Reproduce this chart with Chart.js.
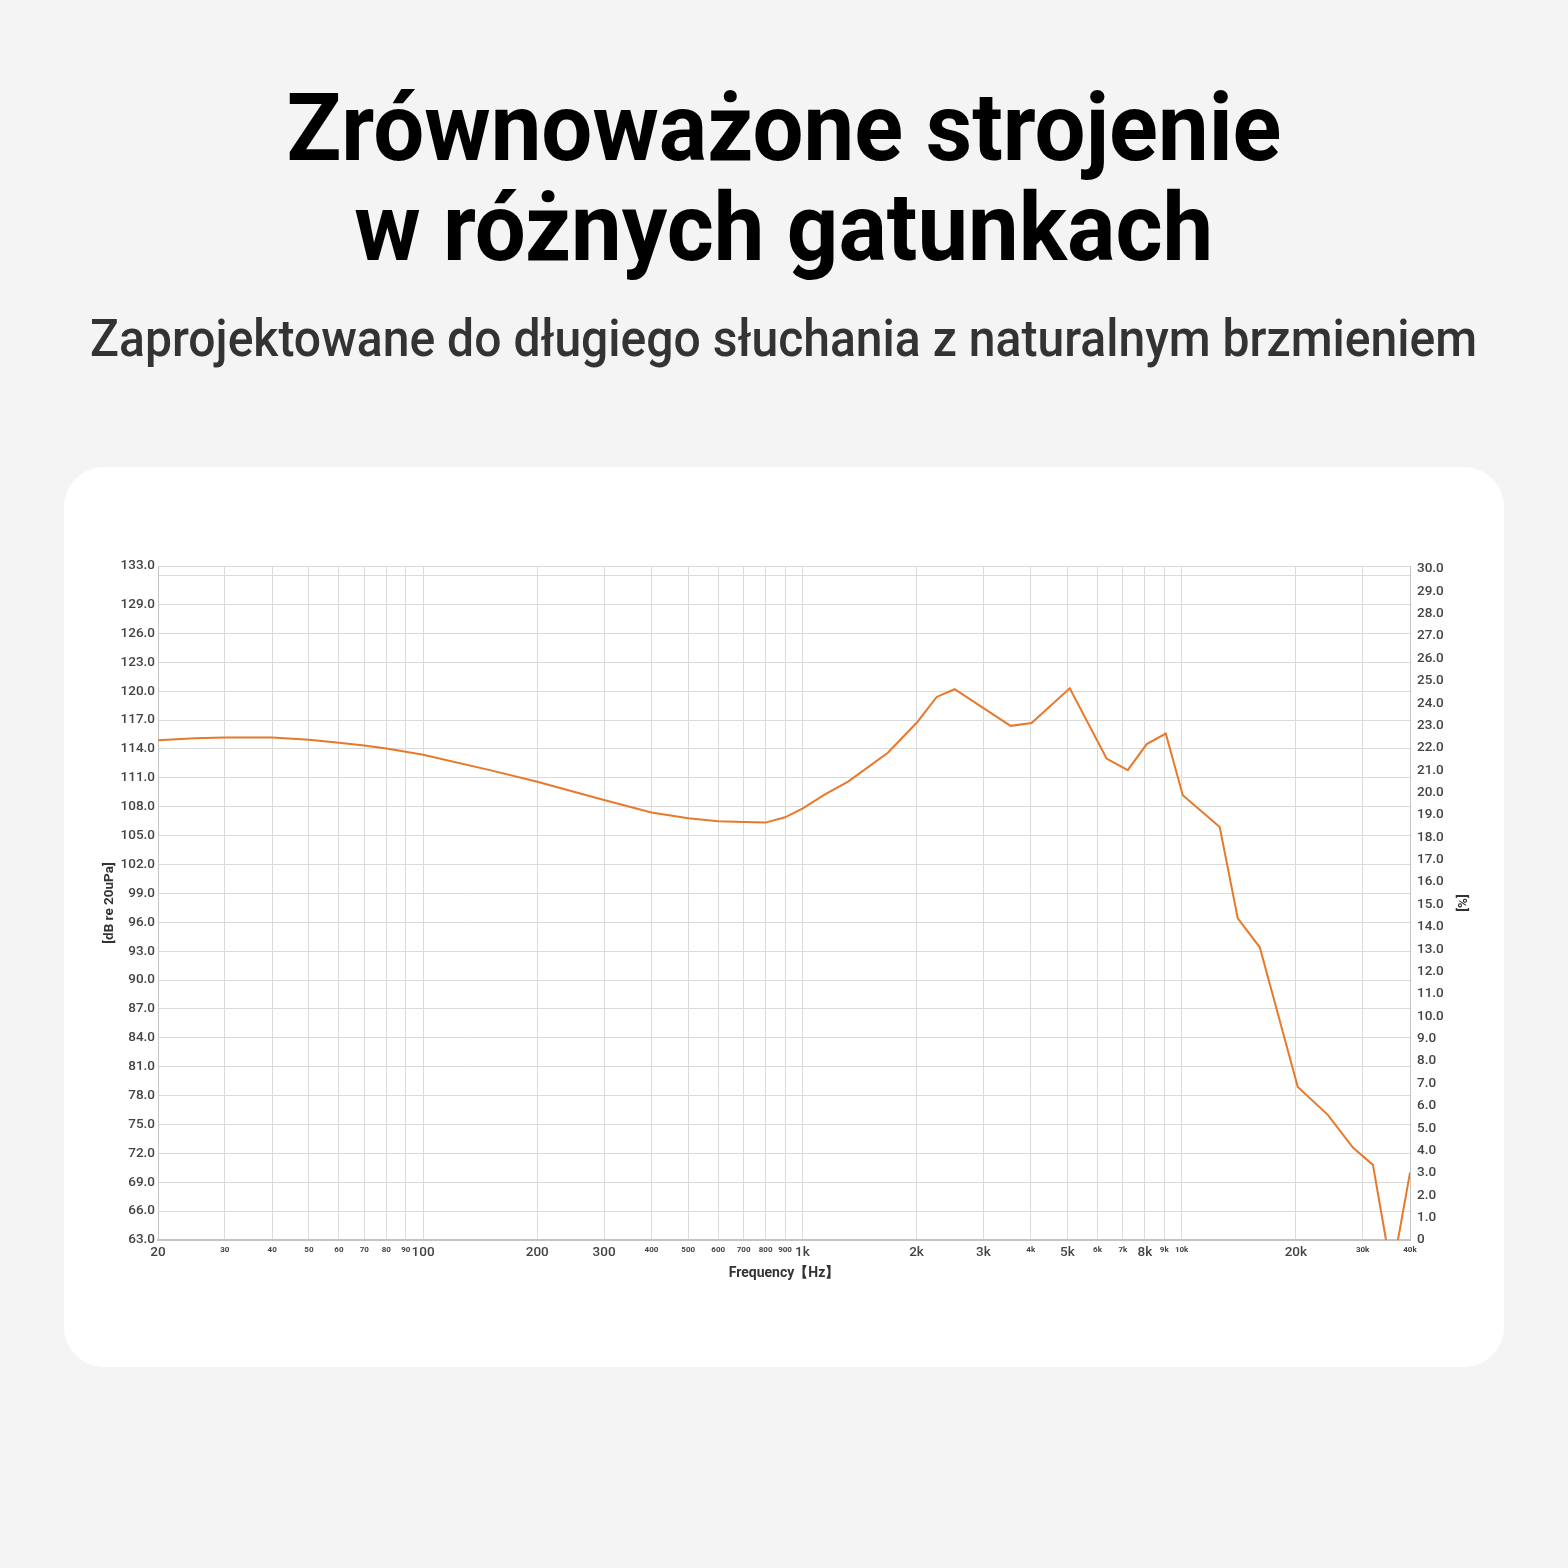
<!DOCTYPE html>
<html>
<head>
<meta charset="utf-8">
<script src="https://cdn.jsdelivr.net/npm/chart.js@4.4.0/dist/chart.umd.min.js"></script>
<style>
    html, body { margin: 0; padding: 0; }
    body {
        width: 1568px;
        height: 1568px;
        background: #f4f4f4;
        position: relative;
        overflow: hidden;
        font-family: Roboto, "Noto Sans", sans-serif;
    }
    .title {
        position: absolute;
        left: 0;
        top: 78px;
        width: 1568px;
        text-align: center;
        font-size: 94px;
        line-height: 100px;
        font-weight: 700;
        color: #000;
    }
    .subtitle {
        position: absolute;
        left: 0;
        top: 309px;
        width: 1568px;
        text-align: center;
        font-size: 52px;
        line-height: 60px;
        font-weight: 500;
        color: #333;
    }
    .fit {
        display: inline-block;
        white-space: nowrap;
        transform-origin: center center;
    }
    .card {
        position: absolute;
        left: 64px;
        top: 467px;
        width: 1440px;
        height: 900px;
        background: #fff;
        border-radius: 40px;
    }
    #fr {
        position: absolute;
        left: 64px;
        top: 467px;
        width: 1440px;
        height: 900px;
    }
</style>
</head>
<body>
<div class="title">
    <span class="fit" data-w="995">Zrównoważone strojenie</span><br>
    <span class="fit" data-w="859">w różnych gatunkach</span>
</div>
<div class="subtitle">
    <span class="fit" data-w="1387">Zaprojektowane do długiego słuchania z naturalnym brzmieniem</span>
</div>
<div class="card"></div>
<canvas id="fr" width="1440" height="900"></canvas>

<script>
const freqHz = [20, 25, 30, 40, 50, 60, 70, 80, 90, 100,
    150, 200, 300, 400, 500, 600, 700, 800, 900, 1000,
    1150, 1320, 1680, 2010, 2260, 2520, 3540, 4020, 5070, 6340,
    7210, 8090, 9080, 10070, 12600, 14060, 16070, 20240, 24290, 28280,
    31940, 35840, 40000];
const splDb = [114.9, 115.1, 115.2, 115.2, 114.95, 114.65, 114.35, 114.05, 113.7, 113.4,
    111.8, 110.6, 108.7, 107.4, 106.8, 106.5, 106.4, 106.35, 106.9, 107.8,
    109.3, 110.6, 113.6, 116.8, 119.4, 120.2, 116.4, 116.7, 120.3, 113.0,
    111.8, 114.5, 115.6, 109.2, 105.9, 96.4, 93.4, 78.9, 76.0, 72.6,
    70.8, 59.5, 70.0];

// axis ticks
const freqTicks = [20, 30, 40, 50, 60, 70, 80, 90,
    100, 200, 300, 400, 500, 600, 700, 800, 900,
    1000, 2000, 3000, 4000, 5000, 6000, 7000, 8000, 9000,
    10000, 20000, 30000, 40000];
const freqMajorTicks = [20, 100, 200, 300, 1000, 2000, 3000, 5000, 8000, 20000];
const dbTicks = [63, 66, 69, 72, 75, 78, 81, 84, 87, 90, 93, 96, 99, 102, 105,
    108, 111, 114, 117, 120, 123, 126, 129, 132, 133];
const dbUnlabelled = [132];
const pctTicks = [0, 1, 2, 3, 4, 5, 6, 7, 8, 9, 10, 11, 12, 13, 14, 15,
    16, 17, 18, 19, 20, 21, 22, 23, 24, 25, 26, 27, 28, 29, 30];

const gridColor = "#dadada";
const borderColor = "#c4c4c4";
const tickColor = "#444444";

function fitTitles() {
    document.querySelectorAll(".fit").forEach((el) => {
        el.style.transform = "none";
        const w = el.getBoundingClientRect().width;
        const target = Number(el.dataset.w);
        el.style.transform = `scaleX(${target / w})`;
    });
}

function freqLabel(v) {
    return v >= 1000 ? v / 1000 + "k" : String(v);
}

function createChart() {
    const points = freqHz.map((f, i) => ({ x: f, y: splDb[i] }));

    new Chart(document.getElementById("fr"), {
        type: "line",
        data: {
            datasets: [
                {
                    data: points,
                    borderColor: "#e8792b",
                    borderWidth: 2,
                    pointRadius: 0,
                    tension: 0,
                    yAxisID: "y",
                },
            ],
        },
        options: {
            responsive: false,
            animation: false,
            devicePixelRatio: 1,
            layout: {
                padding: { left: 34, right: 31, top: 99, bottom: 81 },
            },
            plugins: {
                legend: { display: false },
                tooltip: { enabled: false },
            },
            scales: {
                x: {
                    type: "logarithmic",
                    min: 20,
                    max: 40000,
                    afterBuildTicks: (scale) => {
                        scale.ticks = freqTicks.map((v) => ({ value: v }));
                    },
                    afterFit: (scale) => {
                        scale.height = 46;
                    },
                    ticks: {
                        autoSkip: false,
                        maxRotation: 0,
                        padding: 5,
                        color: tickColor,
                        callback: (v) => freqLabel(v),
                        font: (ctx) => {
                            const major = ctx.tick && freqMajorTicks.includes(ctx.tick.value);
                            return major
                                ? { family: "Roboto", size: 13.5, weight: "500" }
                                : { family: "Roboto", size: 8, weight: "700" };
                        },
                    },
                    grid: {
                        color: gridColor,
                        drawTicks: false,
                    },
                    border: {
                        color: borderColor,
                        width: 2,
                    },
                    title: {
                        display: true,
                        text: "Frequency【Hz】",
                        color: "#333333",
                        font: { family: "Roboto", size: 14, weight: "700" },
                        padding: { top: 4, bottom: 4 },
                    },
                },
                y: {
                    position: "left",
                    min: 63,
                    max: 133,
                    afterBuildTicks: (scale) => {
                        scale.ticks = dbTicks.map((v) => ({ value: v }));
                    },
                    afterFit: (scale) => {
                        scale.width = 60;
                    },
                    ticks: {
                        padding: 3,
                        color: tickColor,
                        font: { family: "Roboto", size: 13.5, weight: "500" },
                        callback: (v) => (dbUnlabelled.includes(v) ? "" : Number(v).toFixed(1)),
                    },
                    grid: {
                        color: gridColor,
                        drawTicks: false,
                    },
                    border: {
                        color: borderColor,
                        width: 1,
                    },
                    title: {
                        display: true,
                        text: "[dB re 20uPa]",
                        color: "#333333",
                        font: { family: "Roboto", size: 13.5, weight: "700" },
                        padding: { top: 4, bottom: 4 },
                    },
                },
                y2: {
                    position: "right",
                    min: 0,
                    max: 30.13,
                    afterBuildTicks: (scale) => {
                        scale.ticks = pctTicks.map((v) => ({ value: v }));
                    },
                    afterFit: (scale) => {
                        scale.width = 63;
                    },
                    ticks: {
                        padding: 7,
                        color: tickColor,
                        font: { family: "Roboto", size: 13.5, weight: "500" },
                        callback: (v) => (v === 0 ? "0" : Number(v).toFixed(1)),
                    },
                    grid: {
                        display: false,
                        drawTicks: false,
                    },
                    border: {
                        color: borderColor,
                        width: 1,
                    },
                    title: {
                        display: true,
                        text: "[%]",
                        color: "#333333",
                        font: { family: "Roboto", size: 13.5, weight: "700" },
                        padding: { top: 4, bottom: 4 },
                    },
                },
            },
        },
    });
}

fitTitles();
createChart();
document.fonts.ready.then(fitTitles);
</script>
</body>
</html>
